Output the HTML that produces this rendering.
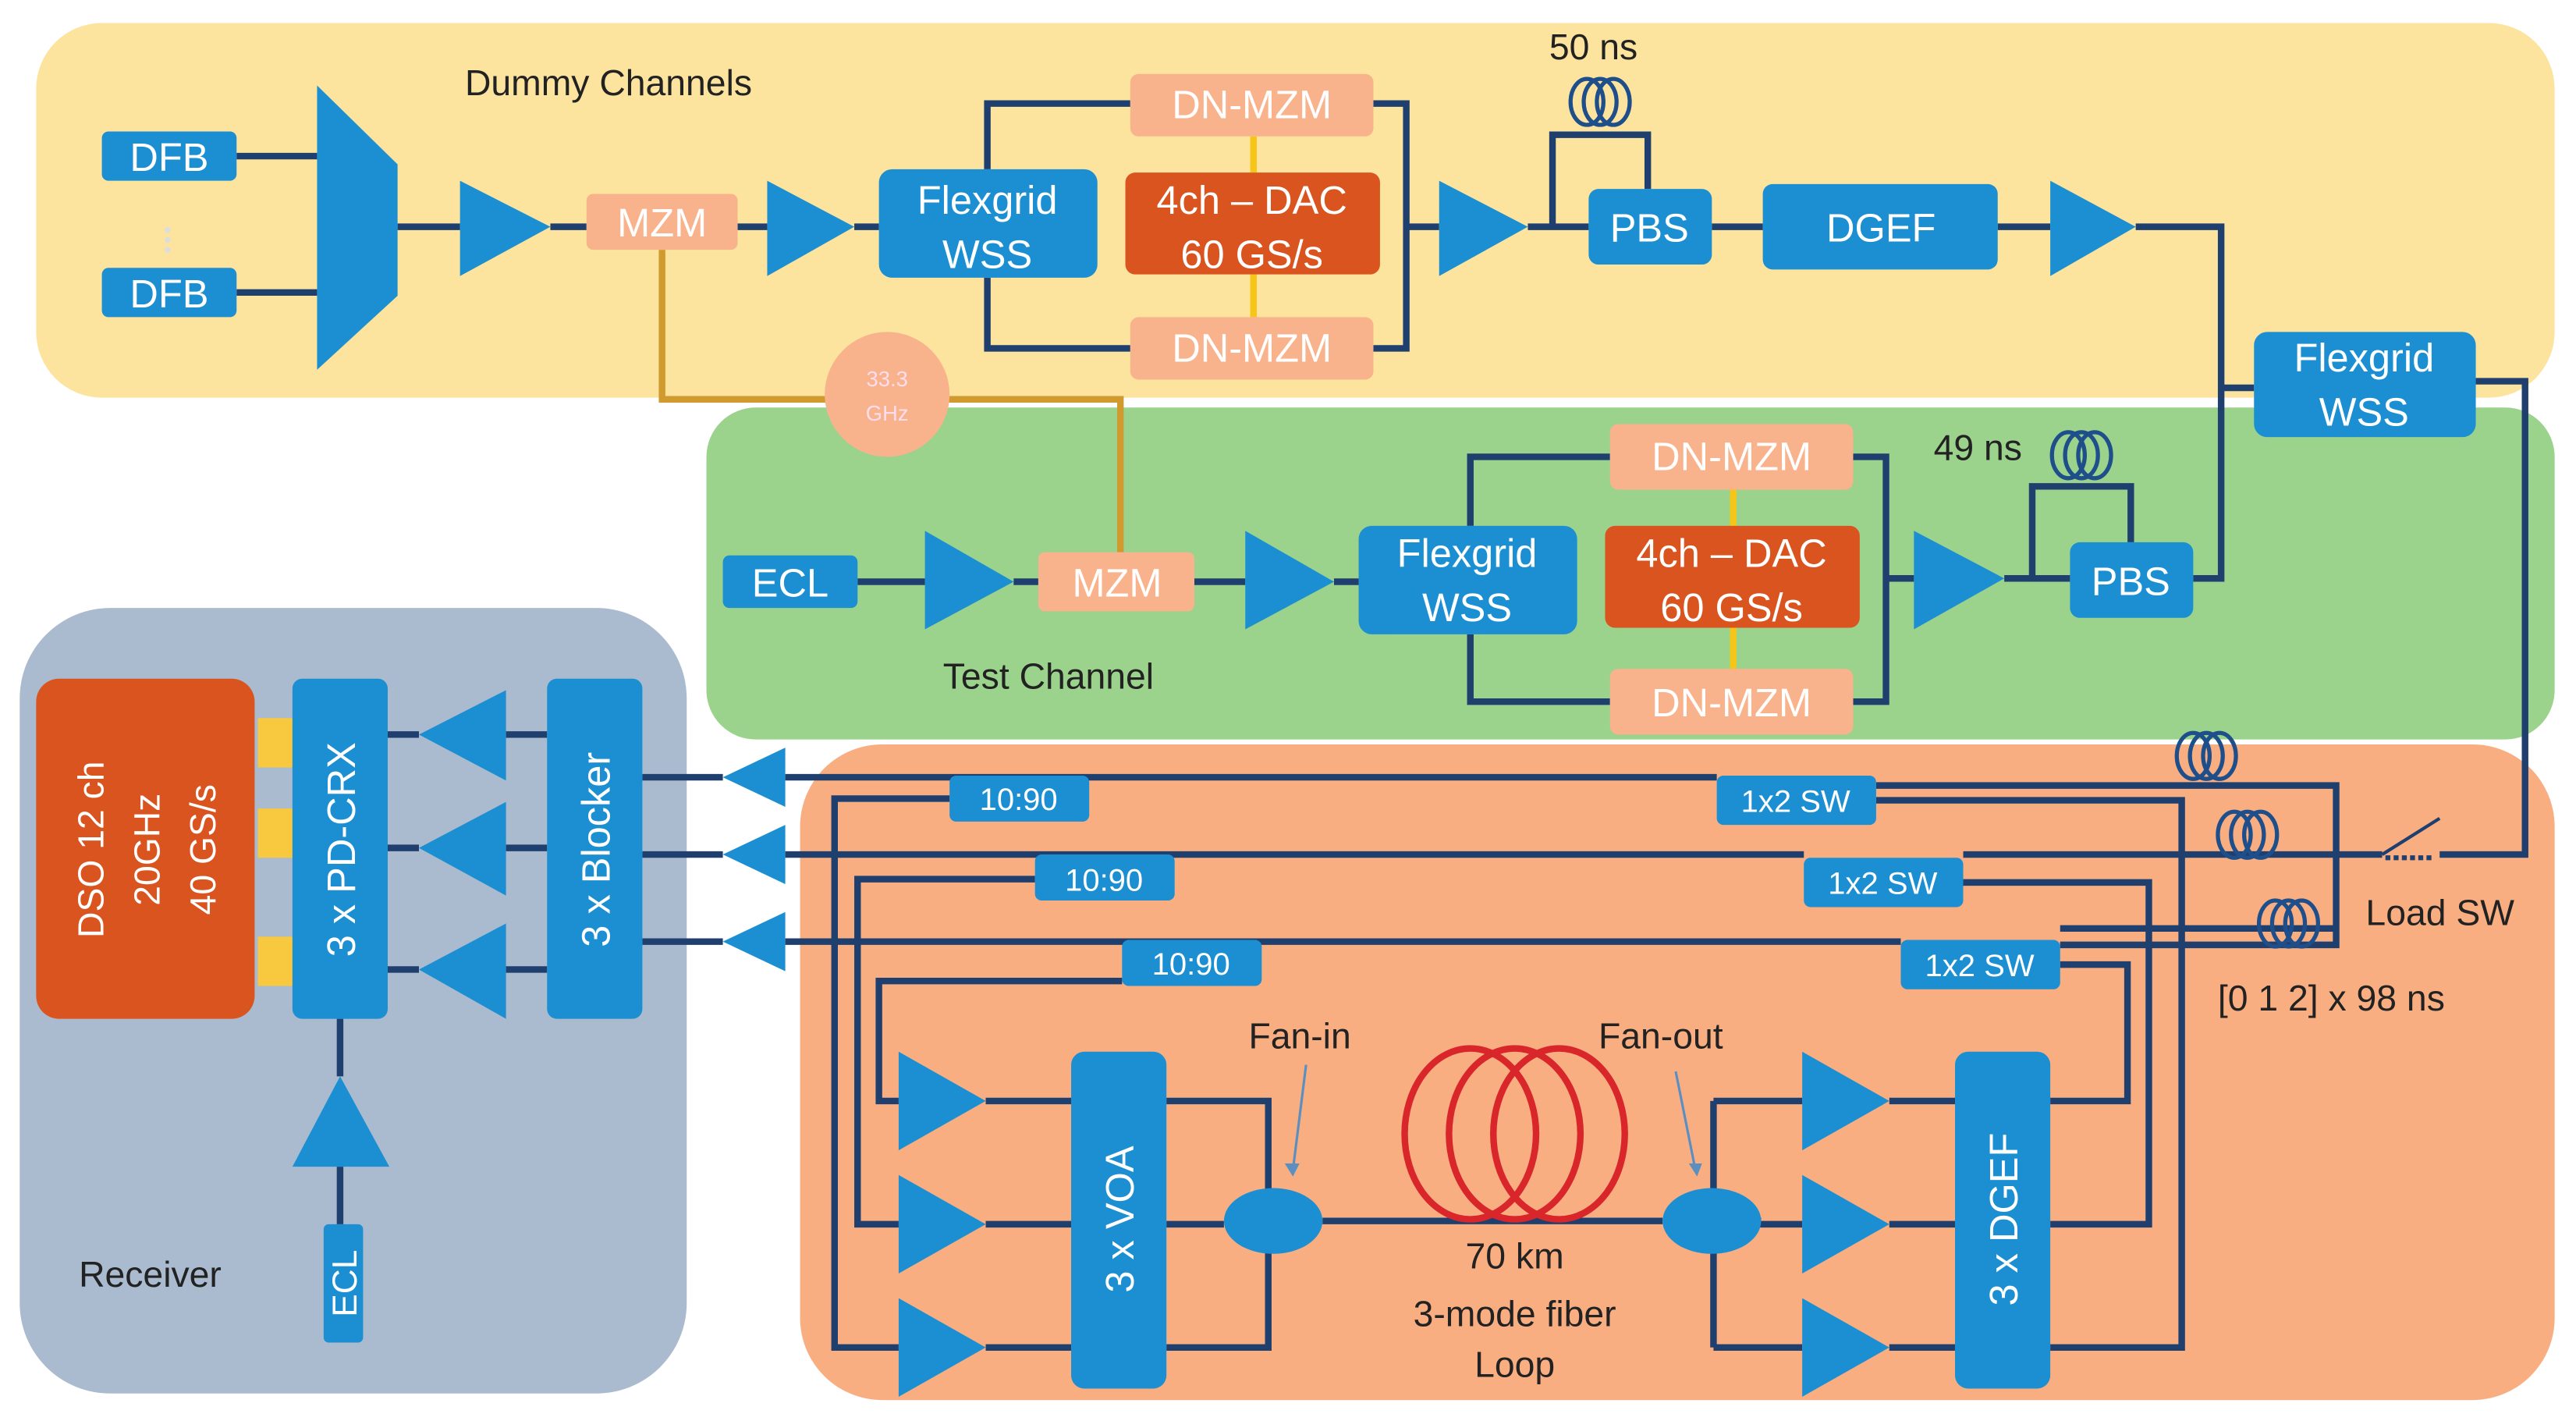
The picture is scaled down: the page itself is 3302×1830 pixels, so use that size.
<!DOCTYPE html>
<html><head><meta charset="utf-8"><style>html,body{margin:0;padding:0;background:#fff}svg{display:block}text{font-family:"Liberation Sans",sans-serif}</style></head><body>
<svg width="3302" height="1830" viewBox="0 0 1568 869" preserveAspectRatio="none" xmlns="http://www.w3.org/2000/svg">
<defs>
<g id="coil" fill="none" stroke="#1F4F8A" stroke-width="2.5"><ellipse cx="-8" cy="0" rx="10" ry="14"/><ellipse cx="0" cy="0" rx="10" ry="14"/><ellipse cx="8" cy="0" rx="10" ry="14"/></g>
</defs>
<!-- regions -->
<rect x="22" y="14" width="1533" height="228" rx="40" fill="#FDE49E"/>
<rect x="430" y="248" width="1125" height="202" rx="30" fill="#9BD28C"/>
<rect x="12" y="370" width="406" height="478" rx="55" fill="#AABACF"/>
<rect x="487" y="453" width="1068" height="399" rx="50" fill="#F9AE82"/>

<g fill="none" stroke="#1F3F6E" stroke-width="4">
<!-- dummy -->
<path d="M144 95H193M144 178H193M242 138H280M335 138H357M449 138H467M520 138H535"/>
<path d="M601 103V63H688M601 169V212H688M836 63H856V212H836M856 138H876M930 138H967M945 138V82H1003V115M1042 138H1073M1216 138H1248M1300 138H1352V236H1372M1352 236V352H1335M1507 232H1537V520H1485"/>
<!-- test -->
<path d="M522 354H563M617 354H632M727 354H758M812 354H827M895 320V278H980M895 386V427H980M1128 278H1148V427H1128M1148 352H1165M1220 352H1260M1237 352V296H1297V330"/>
<!-- receiver -->
<path d="M236 447H255M236 516H255M236 590H255M308 447H333M308 516H333M308 590H333M207 620V655M207 710V745"/>
<!-- orange -->
<path d="M391 473H440M391 520H440M391 573H440"/>
<path d="M478 473H1045M478 520H1098M478 573H1157"/>
<path d="M578 486H508V820H547M630 535H522V745H547M683 597H535V670H547"/>
<path d="M600 670H652M600 745H652M600 820H652M710 670H772V820H710M710 745H745M805 743H1012M1072 743H1043M1043 670V820M1043 670H1097M1043 745H1097M1043 820H1097"/>
<path d="M1150 670H1190M1150 745H1190M1150 820H1190M1248 670H1295V587H1254M1248 745H1308V537H1195M1248 820H1328V487H1142"/>
<path d="M1142 478H1422V575H1254M1195 520H1450M1254 565H1422"/>
</g>
<path d="M1450 520L1485 498" stroke="#1F3F6E" stroke-width="2"/>
<path d="M1452 522H1480" stroke="#1F3F6E" stroke-width="3" stroke-dasharray="3 2"/>
<!-- gold line -->
<path d="M403 152V243H682V338" fill="none" stroke="#D09A2E" stroke-width="4"/>
<path d="M763 83V105M763 167V193M1055 298V320M1055 382V407" stroke="#F5C518" stroke-width="4"/>
<path d="M157 452H178M157 507H178M157 585H178" stroke="#F8C93E" stroke-width="30"/>

<!-- blue boxes -->
<g fill="#1B8FD2">
<rect x="62" y="80" width="82" height="30" rx="4"/><rect x="62" y="163" width="82" height="30" rx="4"/>
<path d="M193 52L242 100V180L193 225Z"/>
<path d="M280 110L335 138L280 168Z M467 110L520 138L467 168Z M876 110L930 138L876 168Z M1248 110L1300 138L1248 168Z"/>
<rect x="535" y="103" width="133" height="66" rx="8"/>
<rect x="967" y="115" width="75" height="46" rx="6"/>
<rect x="1073" y="112" width="143" height="52" rx="6"/>
<rect x="1372" y="202" width="135" height="64" rx="8"/>
<rect x="440" y="338" width="82" height="32" rx="4"/>
<path d="M563 323L617 354L563 383Z M758 323L812 354L758 383Z M1165 323L1220 352L1165 383Z"/>
<rect x="827" y="320" width="133" height="66" rx="8"/>
<rect x="1260" y="330" width="75" height="46" rx="6"/>
<rect x="178" y="413" width="58" height="207" rx="6"/>
<rect x="333" y="413" width="58" height="207" rx="6"/>
<path d="M308 420L255 447L308 475Z M308 488L255 516L308 545Z M308 562L255 590L308 620Z"/>
<path d="M178 710L207 655L237 710Z"/>
<rect x="197" y="745" width="24" height="72" rx="3"/>
<path d="M478 455L440 473L478 491Z M478 502L440 520L478 538Z M478 555L440 573L478 591Z"/>
<rect x="578" y="472" width="85" height="28" rx="4"/><rect x="630" y="520" width="85" height="28" rx="4"/><rect x="683" y="572" width="85" height="28" rx="4"/>
<rect x="1045" y="472" width="97" height="30" rx="4"/><rect x="1098" y="522" width="97" height="30" rx="4"/><rect x="1157" y="572" width="97" height="30" rx="4"/>
<path d="M547 640L600 670L547 700Z M547 715L600 745L547 775Z M547 790L600 820L547 850Z"/>
<rect x="652" y="640" width="58" height="205" rx="8"/>
<ellipse cx="775" cy="743" rx="30" ry="20"/><ellipse cx="1042" cy="743" rx="30" ry="20"/>
<path d="M1097 640L1150 670L1097 700Z M1097 715L1150 745L1097 775Z M1097 790L1150 820L1097 850Z"/>
<rect x="1190" y="640" width="58" height="205" rx="8"/>
</g>
<!-- peach / orange boxes -->
<g fill="#F9B38C">
<rect x="357" y="118" width="92" height="34" rx="4"/>
<rect x="688" y="45" width="148" height="38" rx="5"/><rect x="688" y="193" width="148" height="38" rx="5"/>
<rect x="632" y="336" width="95" height="36" rx="4"/>
<rect x="980" y="258" width="148" height="40" rx="5"/><rect x="980" y="407" width="148" height="40" rx="5"/>
<circle cx="540" cy="240" r="38"/>
</g>
<g fill="#D9541E"><rect x="685" y="105" width="155" height="62" rx="6"/><rect x="977" y="320" width="155" height="62" rx="6"/><rect x="22" y="413" width="133" height="207" rx="14"/></g>
<!-- coils -->
<use href="#coil" transform="translate(974,62)"/><use href="#coil" transform="translate(1267,277)"/>
<use href="#coil" transform="translate(1343,460)"/><use href="#coil" transform="translate(1368,508)"/><use href="#coil" transform="translate(1393,562)"/>
<g fill="none" stroke="#D8262A" stroke-width="4"><ellipse cx="895" cy="690" rx="40" ry="52"/><ellipse cx="922" cy="690" rx="40" ry="52"/><ellipse cx="949" cy="690" rx="40" ry="52"/></g>
<path d="M795 648L787 712M1020 652L1032 712" stroke="#5A8FC0" stroke-width="1.5"/>
<path d="M782 708L787 716L791 708Z M1028 708L1033 716L1036 708Z" fill="#5A8FC0"/>
<circle cx="102" cy="140" r="1.8" fill="#ddd"/><circle cx="102" cy="146" r="1.8" fill="#ddd"/><circle cx="102" cy="152" r="1.8" fill="#ddd"/>

<!-- text -->
<g fill="#fff" font-size="24" text-anchor="middle">
<text x="103" y="104">DFB</text><text x="103" y="187">DFB</text>
<text x="403" y="144">MZM</text>
<text x="601" y="130">Flexgrid</text><text x="601" y="163">WSS</text>
<text x="762" y="72">DN-MZM</text><text x="762" y="220">DN-MZM</text>
<text x="762" y="130">4ch – DAC</text><text x="762" y="163">60 GS/s</text>
<text x="1004" y="147">PBS</text><text x="1145" y="147">DGEF</text>
<text x="1439" y="226">Flexgrid</text><text x="1439" y="259">WSS</text>
<text x="481" y="363">ECL</text><text x="680" y="363">MZM</text>
<text x="893" y="345">Flexgrid</text><text x="893" y="378">WSS</text>
<text x="1054" y="286">DN-MZM</text><text x="1054" y="436">DN-MZM</text>
<text x="1054" y="345">4ch – DAC</text><text x="1054" y="378">60 GS/s</text>
<text x="1297" y="362">PBS</text>
<g font-size="19"><text x="620" y="493">10:90</text><text x="672" y="542">10:90</text><text x="725" y="593">10:90</text>
<text x="1093" y="494">1x2 SW</text><text x="1146" y="544">1x2 SW</text><text x="1205" y="594">1x2 SW</text></g>
<text font-size="13" fill="#fde" x="540" y="235">33.3</text><text font-size="13" fill="#fde" x="540" y="256">GHz</text>
<text transform="translate(216,517) rotate(-90)">3 x PD-CRX</text>
<text transform="translate(371,517) rotate(-90)">3 x Blocker</text>
<text transform="translate(217,781) rotate(-90)" font-size="21">ECL</text>
<text transform="translate(690,742) rotate(-90)">3 x VOA</text>
<text transform="translate(1228,742) rotate(-90)">3 x DGEF</text>
<g font-size="22"><text transform="translate(63,517) rotate(-90)">DSO 12 ch</text><text transform="translate(97,517) rotate(-90)">20GHz</text><text transform="translate(131,517) rotate(-90)">40 GS/s</text></g>
</g>
<g fill="#222" font-size="22">
<text x="283" y="58">Dummy Channels</text>
<text x="943" y="36">50 ns</text>
<text x="1177" y="280">49 ns</text>
<text x="574" y="419">Test Channel</text>
<text x="48" y="783">Receiver</text>
<text x="760" y="638">Fan-in</text><text x="973" y="638">Fan-out</text>
<text x="1440" y="563">Load SW</text>
<text x="1350" y="615">[0 1 2] x 98 ns</text>
<g text-anchor="middle"><text x="922" y="772">70 km</text><text x="922" y="807">3-mode fiber</text><text x="922" y="838">Loop</text></g>
</g>
</svg>
</body></html>
